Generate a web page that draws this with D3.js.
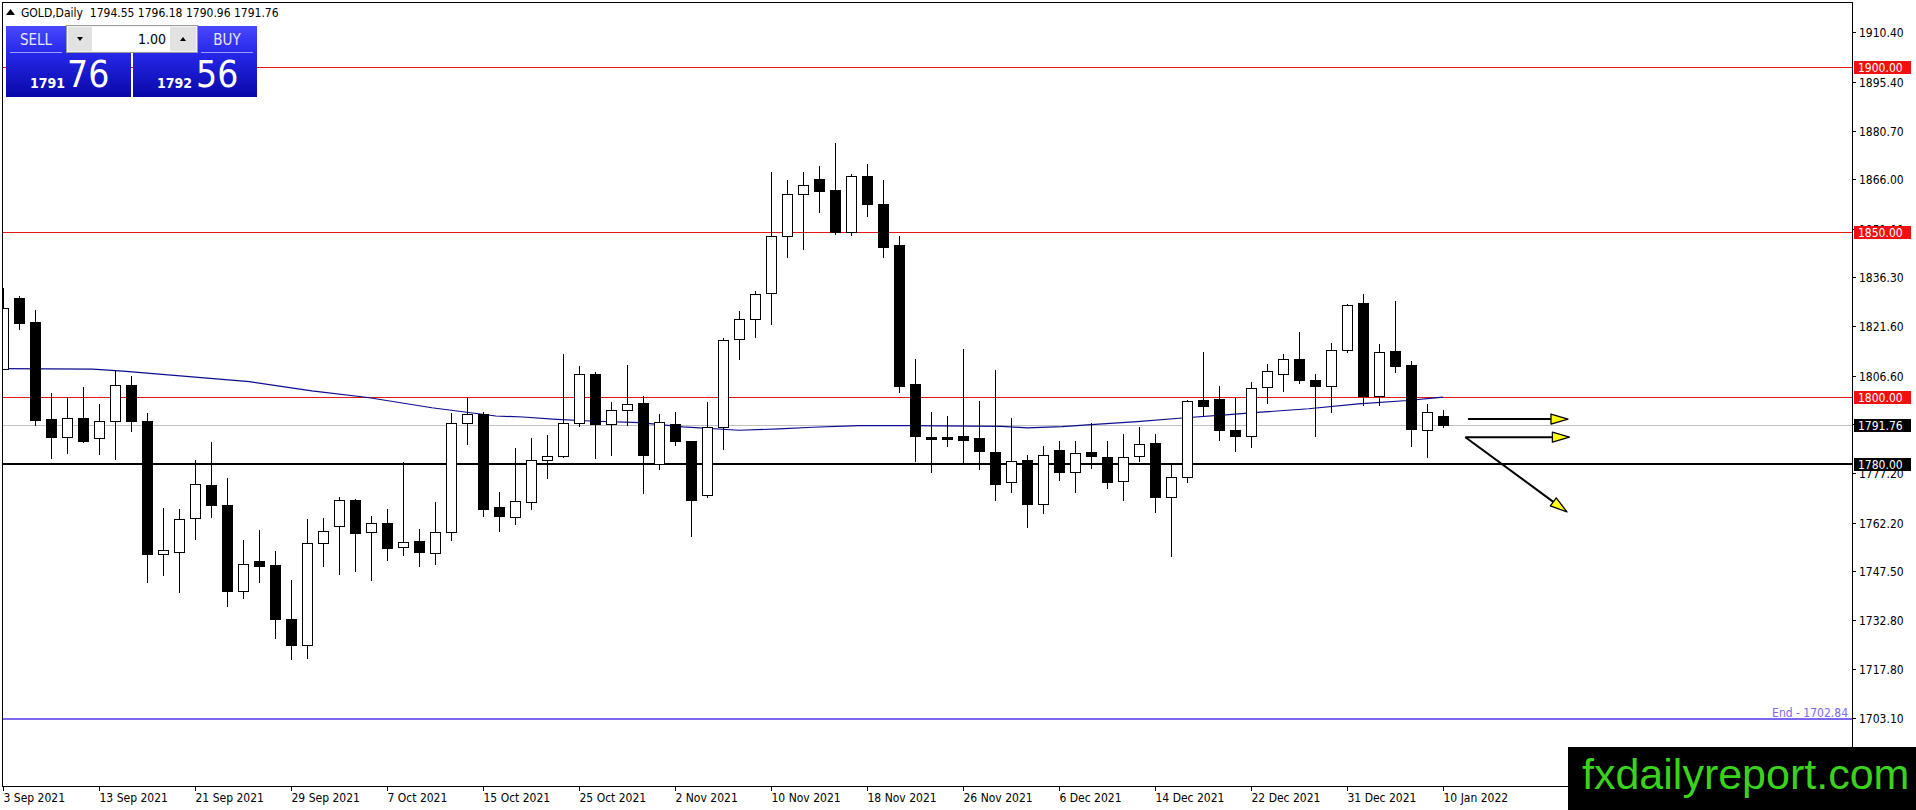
<!DOCTYPE html>
<html><head><meta charset="utf-8">
<script src="https://cdn.jsdelivr.net/npm/d3@7"></script>
<style>
html,body{margin:0;padding:0;background:#fff;overflow:hidden}
svg{display:block}
</style></head><body>
<svg id="c" width="1916" height="810"></svg>
<script>
// ---------- DATA ----------
const dates = [
"3 Sep 2021","6 Sep 2021","7 Sep 2021","8 Sep 2021","9 Sep 2021","10 Sep 2021","13 Sep 2021","14 Sep 2021","15 Sep 2021","16 Sep 2021",
"17 Sep 2021","20 Sep 2021","21 Sep 2021","22 Sep 2021","23 Sep 2021","24 Sep 2021","27 Sep 2021","28 Sep 2021","29 Sep 2021","30 Sep 2021",
"1 Oct 2021","4 Oct 2021","5 Oct 2021","6 Oct 2021","7 Oct 2021","8 Oct 2021","11 Oct 2021","12 Oct 2021","13 Oct 2021","14 Oct 2021",
"15 Oct 2021","18 Oct 2021","19 Oct 2021","20 Oct 2021","21 Oct 2021","22 Oct 2021","25 Oct 2021","26 Oct 2021","27 Oct 2021","28 Oct 2021",
"29 Oct 2021","1 Nov 2021","2 Nov 2021","3 Nov 2021","4 Nov 2021","5 Nov 2021","8 Nov 2021","9 Nov 2021","10 Nov 2021","11 Nov 2021",
"12 Nov 2021","15 Nov 2021","16 Nov 2021","17 Nov 2021","18 Nov 2021","19 Nov 2021","22 Nov 2021","23 Nov 2021","24 Nov 2021","25 Nov 2021",
"26 Nov 2021","29 Nov 2021","30 Nov 2021","1 Dec 2021","2 Dec 2021","3 Dec 2021","6 Dec 2021","7 Dec 2021","8 Dec 2021","9 Dec 2021",
"10 Dec 2021","13 Dec 2021","14 Dec 2021","15 Dec 2021","16 Dec 2021","17 Dec 2021","20 Dec 2021","21 Dec 2021","22 Dec 2021","23 Dec 2021",
"27 Dec 2021","28 Dec 2021","29 Dec 2021","30 Dec 2021","31 Dec 2021","3 Jan 2022","4 Jan 2022","5 Jan 2022","6 Jan 2022","7 Jan 2022",
"10 Jan 2022"];

const open = [1808.7,1830.2,1822.7,1793.6,1788.2,1793.9,1787.7,1792.8,1803.9,1793.0,
1752.7,1753.4,1763.6,1773.6,1767.4,1741.6,1750.5,1749.5,1733.1,1725.2,
1755.9,1761.1,1769.1,1759.2,1762.1,1754.7,1756.7,1753.1,1759.2,1792.3,
1795.1,1766.9,1763.8,1768.5,1781.0,1782.3,1792.3,1807.2,1792.0,1796.2,
1798.2,1780.0,1792.0,1786.9,1770.5,1791.0,1817.7,1823.6,1831.5,1848.8,
1861.5,1865.9,1862.6,1850.0,1867.1,1858.6,1846.2,1804.1,1788.2,1788.2,
1788.5,1787.8,1783.6,1774.5,1781.2,1767.9,1784.2,1777.6,1783.4,1782.1,
1774.7,1782.2,1786.1,1770.0,1776.1,1799.1,1799.4,1790.3,1788.3,1803.1,
1807.2,1811.5,1805.4,1803.6,1814.4,1828.5,1800.6,1814.0,1809.7,1790.2,
1794.55];
const high = [1833.0,1830.6,1826.6,1801.5,1800.3,1803.3,1798.0,1808.4,1806.4,1795.4,
1766.7,1766.2,1781.0,1786.4,1775.6,1757.0,1760.0,1753.6,1744.9,1763.3,
1763.6,1769.8,1769.4,1764.3,1766.4,1780.5,1760.2,1768.4,1795.4,1799.8,
1795.7,1771.5,1784.6,1787.9,1788.7,1813.3,1809.4,1807.7,1798.5,1809.7,
1800.5,1795.1,1795.6,1786.9,1798.5,1817.9,1826.1,1832.2,1868.3,1865.6,
1868.3,1870.1,1876.8,1867.7,1870.7,1865.6,1848.9,1811.7,1795.7,1794.5,
1814.8,1798.8,1808.2,1793.8,1782.6,1785.4,1786.9,1786.9,1792.3,1786.9,
1789.0,1791.0,1789.0,1779.9,1799.1,1813.7,1803.6,1799.9,1804.7,1810.0,
1813.1,1819.8,1807.2,1816.6,1828.2,1831.3,1816.3,1829.1,1810.9,1797.9,
1796.18];
const low = [1808.5,1820.7,1791.6,1781.6,1783.1,1786.5,1782.8,1781.3,1789.8,1744.2,
1746.4,1741.3,1757.2,1763.8,1737.0,1739.5,1744.2,1727.3,1720.8,1721.3,
1749.0,1746.7,1747.5,1744.9,1750.8,1752.4,1749.2,1749.8,1757.0,1785.9,
1764.1,1759.5,1761.9,1766.2,1775.6,1781.9,1791.5,1781.6,1782.6,1791.8,
1771.0,1778.3,1785.7,1758.0,1769.8,1784.4,1811.6,1818.3,1822.1,1842.4,
1844.8,1856.0,1849.4,1849.1,1854.8,1842.4,1801.6,1780.9,1777.6,1785.2,
1780.1,1778.5,1768.9,1771.3,1760.8,1765.2,1775.0,1771.3,1778.8,1772.5,
1769.1,1780.9,1765.4,1752.0,1774.5,1794.8,1787.2,1783.9,1784.9,1798.3,
1802.1,1804.4,1788.5,1795.5,1813.8,1797.8,1797.8,1807.7,1785.4,1781.9,
1790.96];
const close = [1827.2,1822.5,1793.3,1788.2,1793.9,1786.9,1793.0,1803.9,1792.8,1752.7,
1753.9,1763.3,1773.9,1767.4,1741.6,1749.8,1749.2,1733.1,1725.2,1756.1,
1759.5,1769.1,1759.0,1762.1,1754.6,1756.2,1753.4,1759.2,1792.3,1795.1,
1766.4,1764.1,1768.8,1781.0,1782.3,1792.3,1807.2,1792.0,1796.2,1798.1,
1782.6,1792.6,1787.0,1769.0,1791.0,1817.4,1823.6,1831.3,1848.8,1861.5,
1864.3,1862.3,1850.0,1867.1,1858.4,1845.6,1803.6,1788.3,1787.6,1787.6,
1787.3,1783.7,1773.8,1780.9,1767.9,1782.7,1777.6,1783.3,1782.2,1774.6,
1782.1,1786.0,1770.0,1776.0,1798.8,1797.4,1790.2,1788.3,1803.0,1808.1,
1811.5,1805.2,1803.6,1814.3,1827.9,1800.6,1813.9,1809.4,1790.4,1795.5,
1791.76];

// moving average read at sample bars
const maBars   = [0,5.6,7.5,15.4,19.3,22.8,26.8,30.8,32.5,34.6,36.7,39.8,42.5,46,48.5,50.6,53.5,56.6,62.4,64,66.2,68,70.9,73.7,76.6,78.4,81.6,84.7,87.8,89.5,90];
const maValues = [1808.7,1808.6,1808.0,1804.8,1802.0,1800.0,1796.9,1794.4,1794.1,1793.4,1792.9,1792.4,1791.1,1790.1,1790.5,1791.0,1791.5,1791.5,1791.3,1790.8,1791.2,1791.8,1792.7,1793.8,1794.8,1795.5,1796.6,1798.1,1799.1,1799.9,1800.1];

const redLevels = [1900, 1850, 1800];
const supportLevel = 1780;
const bidPrice = 1791.76;
const endLevel = 1702.84;
const priceTicks = [1910.40,1895.40,1880.70,1866.00,1851.00,1836.30,1821.60,1806.60,1791.90,1777.20,1762.20,1747.50,1732.80,1717.80,1703.10];
const dateTickEvery = 6;

// arrows (bar index, price)
const arrowFromBar   = [91.56, 91.4, 91.4];
const arrowFromPrice = [1793.5, 1788.0, 1788.0];
const arrowToBar     = [97.81, 97.9, 97.75];
const arrowToPrice   = [1793.5, 1788.0, 1765.4];

const headerText = "GOLD,Daily  1794.55 1796.18 1790.96 1791.76";
const sellBig = ["1791","76"], buyBig = ["1792","56"], lotText = "1.00";
const watermark = "fxdailyreport.com";

// ---------- CHART ----------
const FONT = "'DejaVu Sans Condensed','DejaVu Sans',sans-serif";
const svg = d3.select("#c");
const plotR = 1852, plotB = 786;
const x = d3.scaleLinear().domain([0, 90]).range([3, 1443]);
const y = d3.scaleLinear().domain([1682.56, 1920.16]).range([786, 0]);

svg.append("defs").append("clipPath").attr("id","plot")
  .append("rect").attr("x",3).attr("y",3).attr("width",plotR-3).attr("height",plotB-3);
const grad = svg.select("defs").append("linearGradient").attr("id","blu").attr("x1",0).attr("y1",0).attr("x2",0).attr("y2",1);
grad.append("stop").attr("offset","0%").attr("stop-color","#4848ff");
grad.append("stop").attr("offset","40%").attr("stop-color","#2626e8");
grad.append("stop").attr("offset","100%").attr("stop-color","#0808a8");

svg.append("rect").attr("width",1916).attr("height",810).attr("fill","#fff");

const g = svg.append("g").attr("clip-path","url(#plot)").attr("shape-rendering","crispEdges");

const hline = (p, color, w) => g.append("line")
  .attr("x1",0).attr("x2",plotR).attr("y1",Math.round(y(p))+(w%2?0.5:0)).attr("y2",Math.round(y(p))+(w%2?0.5:0))
  .attr("stroke",color).attr("stroke-width",w);

redLevels.forEach(p => hline(p,"#e01818",1));
hline(bidPrice,"#c0c0c0",1);
hline(endLevel,"#7b68ee",2);
hline(supportLevel,"#000",2);

// MA
g.append("path")
  .datum(maBars.map((b,i)=>[b,maValues[i]]))
  .attr("fill","none").attr("stroke","#0c0c90").attr("stroke-width",1.2)
  .attr("shape-rendering","auto")
  .attr("d", d3.line().x(d=>x(d[0])).y(d=>y(d[1])));

// candles
const idx = d3.range(open.length);
const cg = g.append("g");
cg.selectAll("line.w").data(idx).join("line").attr("class","w")
  .attr("x1",i=>Math.round(x(i))+0.5).attr("x2",i=>Math.round(x(i))+0.5)
  .attr("y1",i=>Math.round(y(high[i]))).attr("y2",i=>Math.round(y(low[i]))+1)
  .attr("stroke","#000").attr("stroke-width",1);
cg.selectAll("rect.b").data(idx).join("rect").attr("class","b")
  .attr("x",i=>Math.round(x(i))-5+0.5).attr("width",10)
  .attr("y",i=>Math.round(y(Math.max(open[i],close[i])))+0.5)
  .attr("height",i=>Math.max(1,Math.round(y(Math.min(open[i],close[i])))-Math.round(y(Math.max(open[i],close[i])))))
  .attr("fill",i=>close[i]>=open[i]?"#fff":"#000")
  .attr("stroke","#000").attr("stroke-width",1);

// arrows
const ag = svg.append("g");
arrowFromBar.forEach((b,i)=>{
  const x1=x(b), y1=y(arrowFromPrice[i]), x2=x(arrowToBar[i]), y2=y(arrowToPrice[i]);
  const a=Math.atan2(y2-y1,x2-x1), L=17, W=5;
  const bx=x2-L*Math.cos(a), by=y2-L*Math.sin(a);
  ag.append("line").attr("x1",x1).attr("y1",y1).attr("x2",bx).attr("y2",by)
    .attr("stroke","#000").attr("stroke-width",2);
  ag.append("polygon").attr("points",[[x2,y2],[bx-W*Math.sin(a),by+W*Math.cos(a)],[bx+W*Math.sin(a),by-W*Math.cos(a)]].map(p=>p.join(",")).join(" "))
    .attr("fill","#ffff10").attr("stroke","#000").attr("stroke-width",1.3).attr("stroke-linejoin","round");
});

// End label
svg.append("text").attr("x",1848).attr("y",Math.round(y(endLevel))-2).attr("text-anchor","end")
  .attr("font-family",FONT).attr("font-size",12).attr("fill","#7b68ee").text("End - "+endLevel.toFixed(2));

// frame & axes
const ax = svg.append("g").attr("shape-rendering","crispEdges");
ax.append("line").attr("x1",2.5).attr("x2",2.5).attr("y1",2).attr("y2",plotB).attr("stroke","#000");
ax.append("line").attr("x1",2).attr("x2",plotR).attr("y1",2.5).attr("y2",2.5).attr("stroke","#000");
ax.append("line").attr("x1",2).attr("x2",plotR+1).attr("y1",plotB+0.5).attr("y2",plotB+0.5).attr("stroke","#000");
ax.append("line").attr("x1",plotR+0.5).attr("x2",plotR+0.5).attr("y1",2).attr("y2",810).attr("stroke","#000");

// price ticks
priceTicks.forEach(p=>{
  const yy=Math.round(y(p))+0.5;
  ax.append("line").attr("x1",plotR).attr("x2",plotR+4).attr("y1",yy).attr("y2",yy).attr("stroke","#000");
  svg.append("text").attr("x",plotR+7).attr("y",yy).attr("dy","0.36em")
    .attr("font-family",FONT).attr("font-size",12).attr("fill","#000").text(p.toFixed(2));
});
// level labels
const tag = (p, bg) => {
  const yy=Math.round(y(p));
  svg.append("rect").attr("x",plotR+2).attr("y",yy-6).attr("width",57).attr("height",13).attr("fill",bg);
  svg.append("text").attr("x",plotR+6).attr("y",yy+0.5).attr("dy","0.36em")
    .attr("font-family",FONT).attr("font-size",12).attr("fill","#fff").text(p.toFixed(2));
};
redLevels.forEach(p=>tag(p,"#f01010"));
tag(bidPrice,"#000");
tag(supportLevel,"#000");

// date ticks
idx.filter(i=>i%dateTickEvery===0).forEach(i=>{
  const xx=Math.round(x(i))+0.5;
  ax.append("line").attr("x1",xx).attr("x2",xx).attr("y1",plotB).attr("y2",plotB+5).attr("stroke","#000");
  svg.append("text").attr("x",xx).attr("y",802).attr("font-family",FONT).attr("font-size",12).attr("fill","#000").text(dates[i]);
});

// header
svg.append("polygon").attr("points","6,15 10.5,9 15,15").attr("fill","#000");
svg.append("text").attr("x",21).attr("y",17).attr("font-family",FONT).attr("font-size",12).attr("fill","#000")
  .attr("xml:space","preserve").style("white-space","pre").text(headerText);

// trade panel
const tp = svg.append("g");
tp.append("rect").attr("x",6).attr("y",26).attr("width",125).attr("height",71).attr("fill","url(#blu)");
tp.append("rect").attr("x",133).attr("y",26).attr("width",124).attr("height",71).attr("fill","url(#blu)");
tp.append("rect").attr("x",66.5).attr("y",25.5).attr("width",131).attr("height",27).attr("fill","#f4f4f4").attr("stroke","#9a9a9a");
tp.append("rect").attr("x",68).attr("y",27).attr("width",24).attr("height",24).attr("fill","#e2e2e2");
tp.append("rect").attr("x",92).attr("y",27).attr("width",78).attr("height",24).attr("fill","#fff");
tp.append("rect").attr("x",170).attr("y",27).attr("width",26).attr("height",24).attr("fill","#e2e2e2");
tp.append("polygon").attr("points","77,37 83,37 80,41").attr("fill","#000");
tp.append("polygon").attr("points","180,41 186,41 183,37").attr("fill","#000");
tp.append("line").attr("x1",10).attr("x2",62).attr("y1",52.5).attr("y2",52.5).attr("stroke","#9c9cff");
tp.append("line").attr("x1",201).attr("x2",253).attr("y1",52.5).attr("y2",52.5).attr("stroke","#9c9cff");
tp.append("text").attr("x",36).attr("y",45).attr("text-anchor","middle").attr("font-family",FONT).attr("font-size",15).attr("fill","#e8e8ff").text("SELL");
tp.append("text").attr("x",227).attr("y",45).attr("text-anchor","middle").attr("font-family",FONT).attr("font-size",15).attr("fill","#e8e8ff").text("BUY");
tp.append("text").attr("x",166).attr("y",44).attr("text-anchor","end").attr("font-family",FONT).attr("font-size",14).attr("fill","#000").text(lotText);
tp.append("text").attr("x",30).attr("y",88).attr("font-family",FONT).attr("font-size",14).attr("font-weight","bold").attr("fill","#fff").text(sellBig[0]);
tp.append("text").attr("x",67).attr("y",87).attr("font-family",FONT).attr("font-size",37).attr("fill","#fff").text(sellBig[1]);
tp.append("text").attr("x",157).attr("y",88).attr("font-family",FONT).attr("font-size",14).attr("font-weight","bold").attr("fill","#fff").text(buyBig[0]);
tp.append("text").attr("x",196).attr("y",87).attr("font-family",FONT).attr("font-size",37).attr("fill","#fff").text(buyBig[1]);

// watermark
svg.append("rect").attr("x",1568).attr("y",747).attr("width",348).attr("height",63).attr("fill","#000");
svg.append("text").attr("x",1582).attr("y",789).attr("font-family","'Liberation Sans',Arial,sans-serif").attr("font-size",43).attr("fill","#3ad21c").text(watermark);
</script>
</body></html>
